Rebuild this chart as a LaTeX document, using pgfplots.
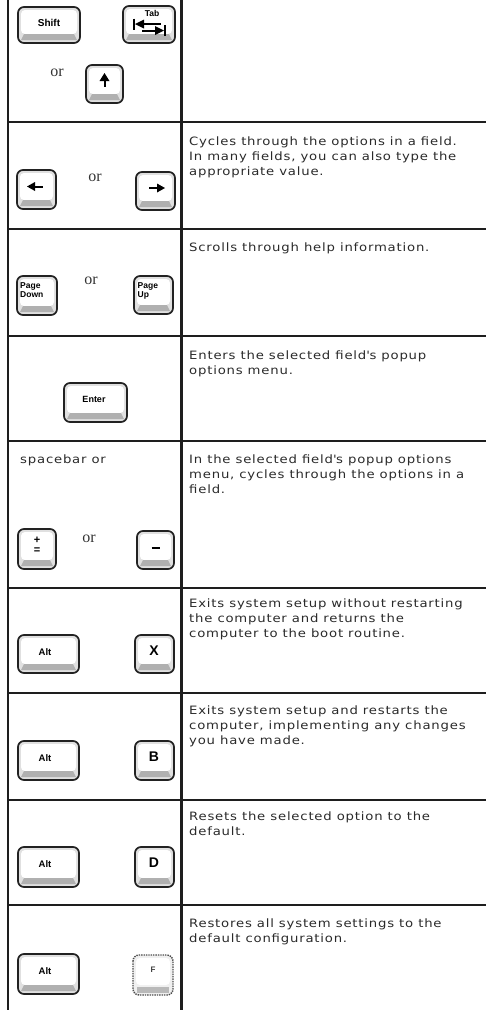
\documentclass[border=0pt]{standalone}
\usepackage{fontspec}
\setmainfont{DejaVu Sans}[FakeStretch=1.15, LetterSpace=7]
\newfontfamily\keyfont{Liberation Sans}
\newfontfamily\orfont{Liberation Serif}
\usepackage{pgfplots}
\pgfplotsset{compat=1.18}
\definecolor{txt}{HTML}{2A2A2A}
\definecolor{gridc}{HTML}{1E1E1E}
\definecolor{keyside}{HTML}{E0E0E0}
\definecolor{keyband}{HTML}{B0B0B0}
\definecolor{keyline}{HTML}{222222}

% key body: x1 y1 x2 y2 (data coords, y downwards)
\newcommand\keyb[4]{%
  \fill[keyside, rounded corners=6bp] (axis cs:#1,#2) rectangle (axis cs:#3,#4);
  \fill[white, rounded corners=4bp] ([shift={(3bp,-3bp)}]axis cs:#1,#2) rectangle ([shift={(-3bp,9bp)}]axis cs:#3,#4);
  \fill[keyband] ([shift={(6bp,9bp)}]axis cs:#1,#4) -- ([shift={(-6bp,9bp)}]axis cs:#3,#4) -- ([shift={(-3bp,3bp)}]axis cs:#3,#4) -- ([shift={(3bp,3bp)}]axis cs:#1,#4) -- cycle;
  \draw[keyline, line width=1.7bp, rounded corners=6bp] (axis cs:#1,#2) rectangle (axis cs:#3,#4);
}
\newcommand\desc{\fontsize{11.5bp}{15bp}\selectfont\color{txt}}
\newcommand\kf[1]{\keyfont\bfseries\fontsize{#1bp}{#1bp}\selectfont}
\newcommand\orf{\orfont\fontsize{16bp}{16bp}\selectfont\color{black!80}}
\tikzset{dtxt/.style={anchor=base west, inner sep=0pt, font=\desc}}

\begin{document}
\begin{tikzpicture}
\useasboundingbox (0,0) rectangle (486bp,1010bp);
\begin{axis}[
  at={(0,0)}, anchor=south west,
  width=486bp, height=1010bp, scale only axis,
  xmin=0, xmax=486, ymin=0, ymax=1010, y dir=reverse,
  enlargelimits=false, hide axis, clip=false,
  gridline/.style={gridc, line width=2.2bp, mark=none, forget plot},
]
% table rules
\addplot[gridline] coordinates {(8,0) (8,1010)};
\addplot[gridline] coordinates {(181.5,0) (181.5,1010)};
\addplot[gridline] coordinates {(8,122) (486,122)};
\addplot[gridline] coordinates {(8,229) (486,229)};
\addplot[gridline] coordinates {(8,336) (486,336)};
\addplot[gridline] coordinates {(8,441) (486,441)};
\addplot[gridline] coordinates {(8,588) (486,588)};
\addplot[gridline] coordinates {(8,693) (486,693)};
\addplot[gridline] coordinates {(8,800) (486,800)};
\addplot[gridline] coordinates {(8,905) (486,905)};

% ---- row 1: Shift / Tab / or up
\keyb{18}{7}{80}{43}
\node[font=\kf{10}] at (axis cs:49,22.5) {Shift};
\keyb{123}{6}{175}{43}
\node[font=\kf{8.5}] at (axis cs:152,13) {Tab};
\draw[line width=1.2bp] (axis cs:134,18.5) -- (axis cs:134,29.5);
\fill (axis cs:135,24) -- (axis cs:144,19.5) -- (axis cs:144,28.5) -- cycle;
\draw[line width=2bp] (axis cs:142,24) -- (axis cs:161,24);
\draw[line width=1.2bp] (axis cs:165,25) -- (axis cs:165,36);
\fill (axis cs:164,30.5) -- (axis cs:155,26) -- (axis cs:155,35) -- cycle;
\draw[line width=2bp] (axis cs:142,30.5) -- (axis cs:157,30.5);
\node[font=\orf] at (axis cs:57,73) {or};
\keyb{86}{65}{123}{103}
\fill (axis cs:104.5,73) -- (axis cs:99.5,81) -- (axis cs:109.5,81) -- cycle;
\draw[line width=2bp] (axis cs:104.5,80) -- (axis cs:104.5,87);

% ---- row 2: arrows
\keyb{17}{170}{56}{209}
\fill (axis cs:27,186.5) -- (axis cs:35,182) -- (axis cs:35,191) -- cycle;
\draw[line width=2bp] (axis cs:34,186.5) -- (axis cs:43,186.5);
\node[font=\orf] at (axis cs:95,178) {or};
\keyb{136}{172}{175}{210}
\fill (axis cs:165,188) -- (axis cs:157,183.5) -- (axis cs:157,192.5) -- cycle;
\draw[line width=2bp] (axis cs:149,188) -- (axis cs:158,188);
\node[dtxt] at (axis cs:189,145) {Cycles through the options in a field.};
\node[dtxt] at (axis cs:189,160) {In many fields, you can also type the};
\node[dtxt] at (axis cs:189,175) {appropriate value.};

% ---- row 3: Page Down / Page Up
\keyb{17}{276}{57}{315}
\node[font=\kf{8.5}, inner sep=0pt, anchor=base west] at (axis cs:20,288.5) {Page};
\node[font=\kf{8.5}, inner sep=0pt, anchor=base west] at (axis cs:20,297) {Down};
\node[font=\orf] at (axis cs:91,281) {or};
\keyb{134}{276}{173}{314}
\node[font=\kf{8.5}, inner sep=0pt, anchor=base west] at (axis cs:137.5,288.5) {Page};
\node[font=\kf{8.5}, inner sep=0pt, anchor=base west] at (axis cs:137.5,297) {Up};
\node[dtxt] at (axis cs:189,251) {Scrolls through help information.};

% ---- row 4: Enter
\keyb{64}{383}{127}{422}
\node[font=\kf{9}] at (axis cs:94,399) {Enter};
\node[dtxt] at (axis cs:189,359) {Enters the selected field\textquotesingle s popup};
\node[dtxt] at (axis cs:189,374) {options menu.};

% ---- row 5: spacebar / + / -
\node[dtxt] at (axis cs:20,463) {spacebar or};
\node[dtxt] at (axis cs:189,463) {In the selected field\textquotesingle s popup options};
\node[dtxt] at (axis cs:189,478) {menu, cycles through the options in a};
\node[dtxt] at (axis cs:189,493) {field.};
\keyb{18}{529}{56}{569}
\node[font=\kf{11}] at (axis cs:37,540) {+};
\node[font=\kf{11}] at (axis cs:37,550.5) {=};
\node[font=\orf] at (axis cs:89,539) {or};
\keyb{137}{531}{174}{569}
\draw[line width=1.6bp] (axis cs:151.5,548) -- (axis cs:160,548);

% ---- row 6: Alt X
\keyb{18}{635}{79}{673}
\node[font=\kf{9.5}] at (axis cs:45,652) {Alt};
\keyb{135}{635}{174}{673}
\node[font=\kf{14}] at (axis cs:154,651) {X};
\node[dtxt] at (axis cs:189,607) {Exits system setup without restarting};
\node[dtxt] at (axis cs:189,622) {the computer and returns the};
\node[dtxt] at (axis cs:189,637) {computer to the boot routine.};

% ---- row 7: Alt B
\keyb{18}{741}{79}{780}
\node[font=\kf{9.5}] at (axis cs:45,758) {Alt};
\keyb{135}{741}{174}{780}
\node[font=\kf{14}] at (axis cs:154,757) {B};
\node[dtxt] at (axis cs:189,714) {Exits system setup and restarts the};
\node[dtxt] at (axis cs:189,729) {computer, implementing any changes};
\node[dtxt] at (axis cs:189,744) {you have made.};

% ---- row 8: Alt D
\keyb{18}{847}{79}{887}
\node[font=\kf{9.5}] at (axis cs:45,864) {Alt};
\keyb{135}{847}{174}{887}
\node[font=\kf{14}] at (axis cs:154,863) {D};
\node[dtxt] at (axis cs:189,820) {Resets the selected option to the};
\node[dtxt] at (axis cs:189,835) {default.};

% ---- row 9: Alt F
\keyb{18}{954}{79}{994}
\node[font=\kf{9.5}] at (axis cs:45,971) {Alt};
\fill[gray!12, rounded corners=6bp] (axis cs:133,955) rectangle (axis cs:173,995);
\fill[white, rounded corners=4bp] (axis cs:136,958) rectangle (axis cs:170,985);
\fill[gray!55] (axis cs:137,987) rectangle (axis cs:169,993);
\draw[black!70, densely dotted, line width=1.4bp, rounded corners=6bp] (axis cs:133,955) rectangle (axis cs:173,995);
\node[font=\kf{8}, text=black!75] at (axis cs:153,970) {F};
\node[dtxt] at (axis cs:189,927) {Restores all system settings to the};
\node[dtxt] at (axis cs:189,942) {default configuration.};
\end{axis}
\end{tikzpicture}
\end{document}
